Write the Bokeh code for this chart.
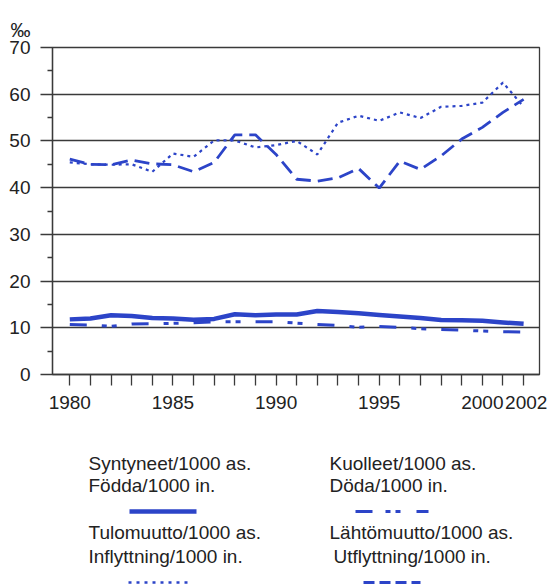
from bokeh.plotting import figure
from bokeh.models import Range1d, FixedTicker
from bokeh.layouts import column
from bokeh.core.properties import value
from bokeh.embed import file_html
from bokeh.resources import INLINE

years = list(range(1980, 2003))
born = [11.8, 12.0, 12.7, 12.5, 12.1, 12.0, 11.7, 11.9, 12.9, 12.7, 12.85, 12.85,
        13.6, 13.4, 13.1, 12.75, 12.4, 12.1, 11.65, 11.6, 11.5, 11.15, 10.85]
dead = [10.7, 10.6, 10.3, 10.8, 10.85, 10.95, 11.1, 11.3, 11.3, 11.3, 11.3, 11.0,
        10.7, 10.5, 10.1, 10.3, 10.1, 9.8, 9.65, 9.5, 9.3, 9.15, 9.1]
inflow = [45.4, 45.0, 44.9, 45.0, 43.4, 47.3, 46.6, 50.1, 50.1, 48.6, 49.1, 50.0,
          47.1, 53.9, 55.4, 54.3, 56.1, 54.9, 57.3, 57.5, 58.2, 62.5, 57.3]
outflow = [46.1, 45.0, 44.9, 45.9, 45.1, 44.9, 43.4, 45.4, 51.3, 51.3, 47.1, 41.8,
           41.4, 42.1, 44.1, 39.9, 45.7, 43.9, 46.8, 50.4, 52.9, 56.1, 58.9]
labeled_years = [1980, 1985, 1990, 1995, 2000, 2002]
y_ticks = [0, 10, 20, 30, 40, 50, 60, 70]
y_minor = [5, 15, 25, 35, 45, 55, 65]

legend_left = [("Syntyneet/1000 as.", "Födda/1000 in."), ("Tulomuutto/1000 as.", "Inflyttning/1000 in.")]
legend_right = [("Kuolleet/1000 as.", "Döda/1000 in."), ("Lähtömuutto/1000 as.", "Utflyttning/1000 in.")]

BLUE = "#2c44c8"
DARK = "#3a3a3a"
TXT = "#222222"
FONT = "Liberation Sans"
FS = "19px"

p = figure(width=553, height=420, output_backend="svg", toolbar_location=None,
           x_range=Range1d(1979.162, 2002.77), y_range=Range1d(0, 70),
           min_border_left=52, min_border_right=14, min_border_top=47, min_border_bottom=46)
p.title.text = "‰"
p.title.align = "left"
p.title.offset = -42
p.title.text_font = FONT
p.title.text_font_size = "20px"
p.title.text_font_style = "normal"
p.title.text_color = TXT
p.title.standoff = 14

p.outline_line_color = DARK
p.outline_line_width = 1.3
p.background_fill_color = "white"
p.border_fill_color = "white"

p.xgrid.visible = False
p.ygrid.ticker = FixedTicker(ticks=y_ticks)
p.ygrid.grid_line_color = DARK
p.ygrid.grid_line_width = 1.3

ya = p.yaxis[0]
ya.ticker = FixedTicker(ticks=y_ticks, minor_ticks=y_minor)
ya.major_tick_out = 12
ya.major_tick_in = 0
ya.minor_tick_out = 5
ya.minor_tick_in = 0
ya.axis_line_color = DARK
ya.major_tick_line_color = DARK
ya.minor_tick_line_color = DARK
ya.axis_line_width = 1.3
ya.major_tick_line_width = 1.3
ya.minor_tick_line_width = 1.3
ya.major_label_text_font = FONT
ya.major_label_text_font_size = FS
ya.major_label_text_color = TXT
ya.major_label_standoff = 10

xa = p.xaxis[0]
xa.ticker = FixedTicker(ticks=years, minor_ticks=[])
overrides = {y: (str(y) if y in labeled_years else "") for y in years}
overrides[2002] = "\u00a02002"
xa.major_label_overrides = overrides
xa.major_tick_out = 11
xa.major_tick_in = 0
xa.minor_tick_out = 0
xa.axis_line_color = DARK
xa.major_tick_line_color = DARK
xa.axis_line_width = 1.3
xa.major_tick_line_width = 1.3
xa.major_label_text_font = FONT
xa.major_label_text_font_size = FS
xa.major_label_text_color = TXT
xa.major_label_standoff = 6

p.line(years, born, line_color=BLUE, line_width=4.5, line_join="round")
p.line(years, dead, line_color=BLUE, line_width=3, line_dash="17 15 5 5 5 15")
p.line(years, inflow, line_color=BLUE, line_width=2.2, line_dash="3 4")
p.line(years, outflow, line_color=BLUE, line_width=2.8, line_dash="15 7")

# legend panel (coordinates in page pixels)
lg = figure(width=553, height=164, output_backend="svg", toolbar_location=None,
            x_range=Range1d(52, 539), y_range=Range1d(584, 420),
            min_border_left=52, min_border_right=14, min_border_top=0, min_border_bottom=0)
lg.axis.visible = False
lg.grid.visible = False
lg.outline_line_color = None

def texts(xs, ys, ts):
    lg.text(x=xs, y=ys, text=ts, text_font=value(FONT), text_font_size=FS,
            text_color=TXT, text_align="left", text_baseline="middle")

texts([88, 88, 88, 88], [463, 485, 532, 556],
      [legend_left[0][0], legend_left[0][1], legend_left[1][0], legend_left[1][1]])
texts([329, 329, 329, 333], [463, 485, 532, 556],
      [legend_right[0][0], legend_right[0][1], legend_right[1][0], legend_right[1][1]])

lg.line([129, 196], [511, 511], line_color=BLUE, line_width=4.5)
lg.line([128, 188], [582, 582], line_color=BLUE, line_width=2.5, line_dash="3 5")
lg.line([355, 428], [511, 511], line_color=BLUE, line_width=3, line_dash="17 13 5 5 5 16")
lg.line([363, 420], [582, 582], line_color=BLUE, line_width=3, line_dash="11 5")

layout = column(p, lg, spacing=0)
open("out.html", "w").write(file_html(layout, INLINE))
